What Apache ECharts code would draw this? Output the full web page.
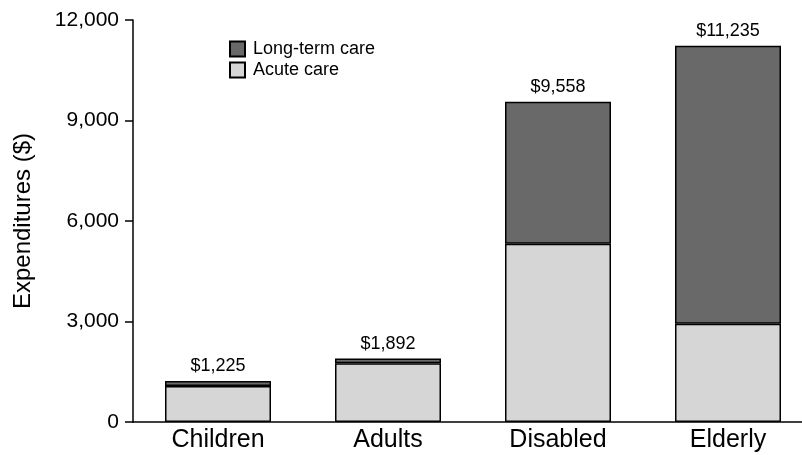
<!DOCTYPE html>
<html>
<head>
<meta charset="utf-8">
<script src="https://cdn.jsdelivr.net/npm/echarts@6/dist/echarts.min.js"></script>
<style>
html,body{margin:0;padding:0;background:#fff;}
#chart{width:802px;height:455px;}
</style>
</head>
<body>
<div id="chart"></div>
<script>
const categories = ['Children', 'Adults', 'Disabled', 'Elderly'];
const acuteCare = [1075, 1752, 5320, 2930];
const longTermCare = [150, 140, 4238, 8305];
const totals = [1225, 1892, 9558, 11235];
const yTicks = [0, 3000, 6000, 9000, 12000];

const FONT = 'Liberation Sans';
const chart = echarts.init(document.getElementById('chart'), null, {renderer: 'canvas'});
chart.setOption({
  animation: false,
  backgroundColor: '#ffffff',
  textStyle: {fontFamily: FONT, color: '#000'},
  grid: {left: 133, right: -11, top: 20, bottom: 33, containLabel: false, outerBoundsMode: 'none'},
  legend: {
    orient: 'vertical', left: 224, top: 35, itemWidth: 15, itemHeight: 15, itemGap: 3,
    icon: 'rect',
    data: ['Long-term care', 'Acute care'],
    textStyle: {fontFamily: FONT, fontSize: 18, color: '#000', padding: [0, 0, 0, 3], lineHeight: 18}
  },
  xAxis: {
    type: 'category', data: categories,
    axisLine: {lineStyle: {color: '#000', width: 1.5}},
    axisTick: {show: false},
    axisLabel: {fontFamily: FONT, fontSize: 25, color: '#000', margin: 6}
  },
  yAxis: {
    type: 'value', min: yTicks[0], max: yTicks[yTicks.length - 1], interval: 3000,
    name: 'Expenditures ($)', nameLocation: 'middle', nameGap: 98,
    nameTextStyle: {fontFamily: FONT, fontSize: 24, color: '#000'},
    axisLine: {show: true, lineStyle: {color: '#000', width: 1.5}},
    axisTick: {show: true, length: 8, lineStyle: {color: '#000', width: 1.5}},
    splitLine: {show: false},
    axisLabel: {
      fontFamily: FONT, fontSize: 21, color: '#000', margin: 14,
      formatter: v => v.toLocaleString('en-US')
    }
  },
  series: [
    {
      name: 'Acute care', type: 'bar', stack: 'total', data: acuteCare, barWidth: 106,
      itemStyle: {color: '#d6d6d6', borderColor: '#000', borderWidth: 1.5}
    },
    {
      name: 'Long-term care', type: 'bar', stack: 'total', data: longTermCare, barWidth: 106,
      itemStyle: {color: '#696969', borderColor: '#000', borderWidth: 1.5},
      label: {
        show: true, position: 'top', distance: 6,
        fontFamily: FONT, fontSize: 18, color: '#000',
        formatter: p => '$' + totals[p.dataIndex].toLocaleString('en-US')
      }
    }
  ]
});
</script>
</body>
</html>
